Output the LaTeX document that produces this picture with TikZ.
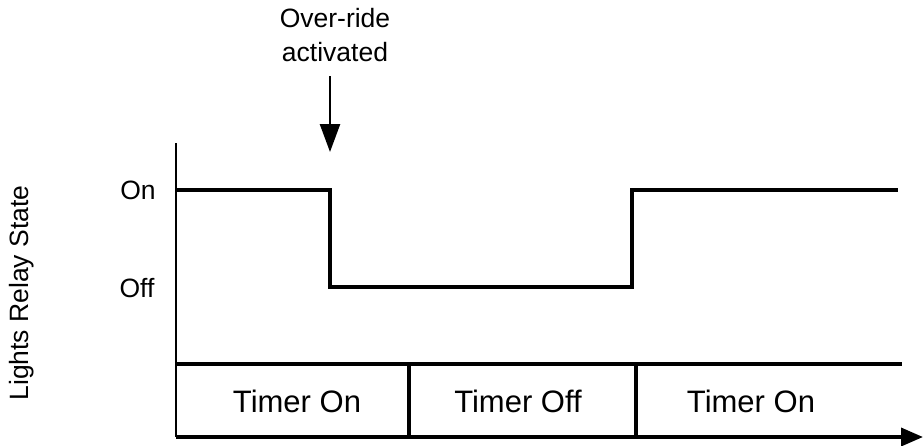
\documentclass[tikz,border=0pt]{standalone}
\usepackage{fontspec}
\setmainfont{Liberation Sans}
\usetikzlibrary{arrows.meta}
\begin{document}
\begin{tikzpicture}[x=1pt,y=-1pt,
  lbl/.style={inner sep=0pt, font=\fontsize{26.5}{30}\selectfont},
  tlbl/.style={inner sep=0pt, font=\fontsize{31}{34}\selectfont},
  sig/.style={line width=4.2pt, line join=miter},
  band/.style={line width=3.6pt},
  axis/.style={line width=2.5pt}]
\useasboundingbox (0,0) rectangle (923,445);
% coordinates
\coordinate (ytop) at (176,143);
\coordinate (origin) at (176,437);
\coordinate (xend) at (923,437);
\coordinate (s0) at (176,190);
\coordinate (s1) at (330,190);
\coordinate (s2) at (330,287);
\coordinate (s3) at (632,287);
\coordinate (s4) at (632,190);
\coordinate (s5) at (898,190);
\coordinate (b0) at (176,364);
\coordinate (b1) at (902,364);
\coordinate (d1t) at (409,364);
\coordinate (d1b) at (409,437);
\coordinate (d2t) at (636,364);
\coordinate (d2b) at (636,437);
\coordinate (ar0) at (330,76);
\coordinate (ar1) at (330,152);
% axes
\draw[axis] (ytop) -- (origin);
\draw[band, -{Triangle[length=22pt,width=18pt]}] (origin) -- (xend);
% signal
\draw[sig] (s0) -- (s1) -- (s2) -- (s3) -- (s4) -- (s5);
% timer band
\draw[band] (b0) -- (b1);
\draw[band] (d1t) -- (d1b);
\draw[band] (d2t) -- (d2b);
% override arrow
\draw[line width=2.5pt, -{Triangle[length=28pt,width=20pt]}] (ar0) -- (ar1);
% labels
\node[lbl, align=center] (ovr) at (335,35) {Over-ride\\[4pt]activated};
\node[lbl] (on) at (138,190) {On};
\node[lbl] (off) at (137,288) {Off};
\node[lbl, rotate=90] (ylab) at (22,293) {Lights Relay State};
\node[tlbl] (t1) at (297,401) {Timer On};
\node[tlbl] (t2) at (518,401) {Timer Off};
\node[tlbl] (t3) at (751,401) {Timer On};
\end{tikzpicture}
\end{document}
